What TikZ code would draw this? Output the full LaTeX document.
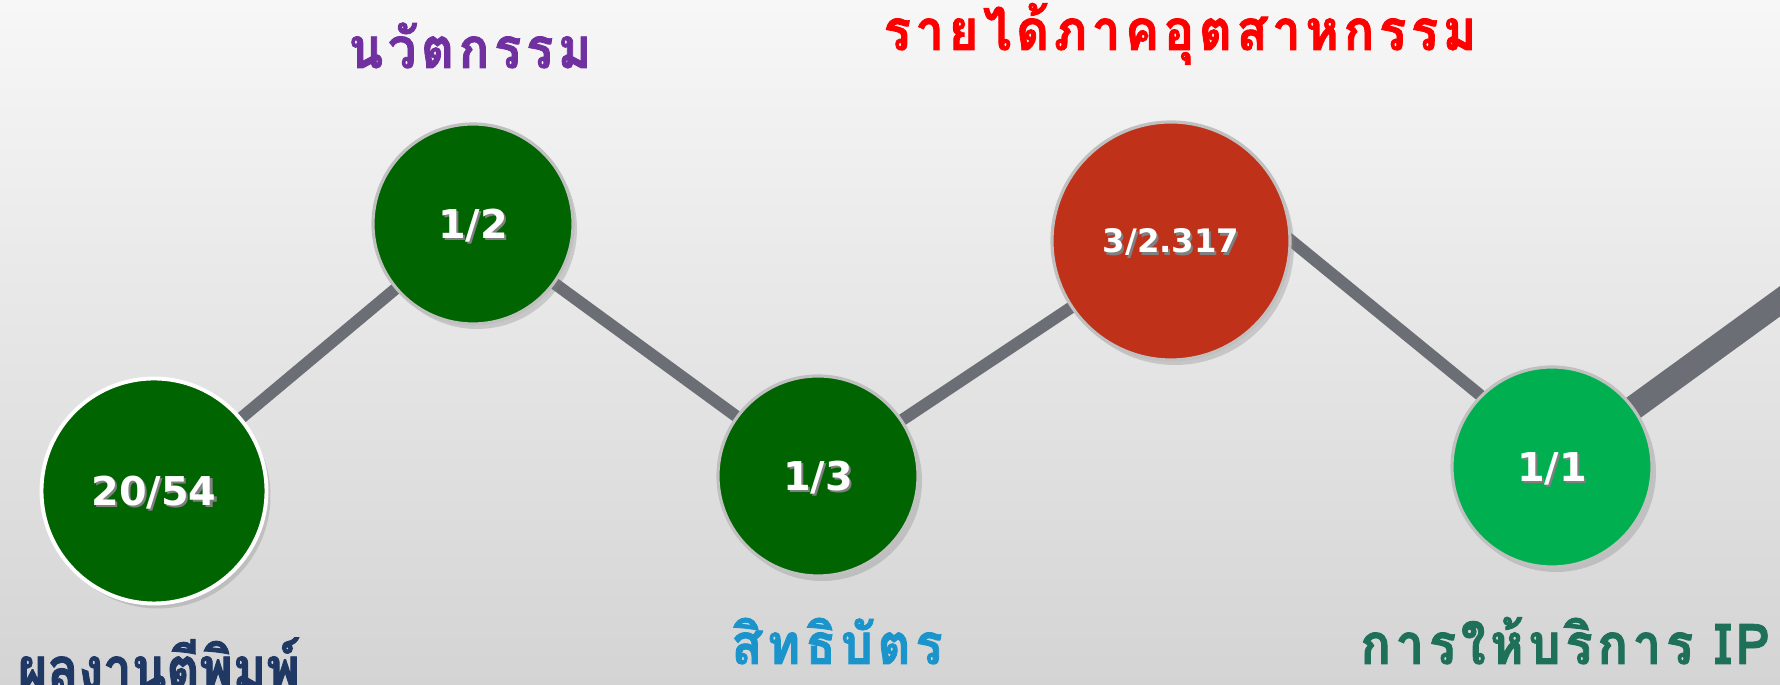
\documentclass[tikz,border=0pt]{standalone}
\usepackage{fontspec}
\setmainfont{DejaVu Sans}
\newfontfamily\thaifont[Script=Thai,FakeStretch=0.85,FakeBold=1.5]{Loma}
\newfontfamily\thaispaced[Script=Thai,LetterSpace=8.5,FakeStretch=0.9,FakeBold=1.5]{Loma}
\usetikzlibrary{backgrounds,shadows,calc}
\definecolor{bgtop}{RGB}{247,247,247}
\definecolor{bgbot}{RGB}{212,212,212}
\definecolor{linkgray}{RGB}{107,110,116}
\definecolor{rimgray}{RGB}{192,192,192}
\definecolor{darkleaf}{RGB}{0,100,0}
\definecolor{brightleaf}{RGB}{0,176,80}
\definecolor{brick}{RGB}{192,49,26}
\definecolor{inkpurple}{RGB}{112,48,160}
\definecolor{inkred}{RGB}{255,0,0}
\definecolor{inknavy}{RGB}{31,56,100}
\definecolor{inkblue}{RGB}{26,148,202}
\definecolor{inkteal}{RGB}{31,112,89}
% white text with a soft shadow
\newcommand{\shtext}[1]{\makebox[0pt][l]{\hspace{0.6pt}\raisebox{-0.6pt}{\color{black!50}#1}}#1}
\begin{document}
\begin{tikzpicture}[
	score/.style={circle, draw=rimgray, line width=0.9pt, minimum size=2cm, inner sep=0pt,
		text=white, text depth=0pt, font=\bfseries\fontsize{11.3}{13}\selectfont,
		drop shadow={shadow xshift=0.04cm, shadow yshift=-0.05cm, opacity=0.3}},
	link/.style={draw=linkgray, line width=3.4pt},
	heading/.style={anchor=base, inner sep=0pt, font=\thaispaced\bfseries\fontsize{16}{18}\selectfont}
	]
	\useasboundingbox (0,0) rectangle (17.8,6.85);
	% Circles
	\node[score, fill=darkleaf, draw=white, line width=1.1pt, minimum size=2.25cm] (c1) at (1.54,1.94) {\shtext{20/54}};
	\node[score, fill=darkleaf] (c2) at (4.73,4.61) {\shtext{1/2}};
	\node[score, fill=darkleaf] (c3) at (8.18,2.09) {\shtext{1/3}};
	\node[score, fill=brick, minimum size=2.38cm, font=\bfseries\fontsize{9.2}{11}\selectfont] (c4) at (11.71,4.44) {\shtext{3/2.317}};
	\node[score, fill=brightleaf] (c5) at (15.52,2.18) {\shtext{1/1}};
	\coordinate (exit) at (18.3,4.2);
	% Background and zigzag
	\begin{scope}[on background layer]
		\shade[top color=bgtop, bottom color=bgbot] (0,0) rectangle (17.8,6.85);
		\draw[link] (c1.center) -- (c2.center) -- (c3.center) -- (c4.center);
		\draw[link, shorten <=-6pt, shorten >=-6pt] (c4.east) -- (c5.north west);
		\draw[link, line width=7pt] (c5.center) -- (exit);
	\end{scope}
	% Labels
	\node[heading, text=inkpurple] (inno) at (4.70,6.17) {นวัตกรรม};
	\node[heading, text=inkred] (income) at (11.80,6.35) {รายได้ภาคอุตสาหกรรม};
	\node[heading, text=inkblue] (patent) at (8.37,0.21) {สิทธิบัตร};
	\node[heading, text=inkteal] (service) at (15.65,0.21) {การให้บริการ IP};
	\node[anchor=base west, inner sep=0pt, text=inknavy, font=\thaifont\bfseries\fontsize{17}{19}\selectfont] (publ) at (0.17,-0.05) {ผลงานตีพิมพ์};
\end{tikzpicture}
\end{document}
